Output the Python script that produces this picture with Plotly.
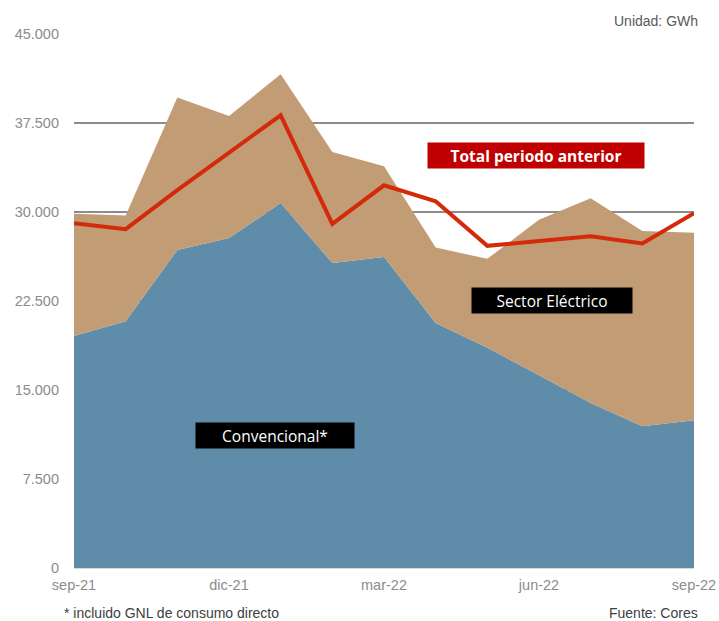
import plotly.graph_objects as go

months = ["sep-21", "oct-21", "nov-21", "dic-21", "ene-22", "feb-22", "mar-22",
          "abr-22", "may-22", "jun-22", "jul-22", "ago-22", "sep-22"]
convencional = [19550, 20800, 26800, 27800, 30750, 25700, 26200,
                20650, 18550, 16250, 13900, 11950, 12450]
total = [29850, 29700, 39650, 38100, 41600, 35050, 33850,
         27000, 26050, 29350, 31150, 28400, 28250]
sector_electrico = [t - c for t, c in zip(total, convencional)]
total_anterior = [29050, 28550, 31850, 35050, 38150, 29000, 32250,
                  30900, 27150, 27550, 27950, 27350, 29900]
tick_months = ["sep-21", "dic-21", "mar-22", "jun-22", "sep-22"]
y_ticks = [0, 7500, 15000, 22500, 30000, 37500, 45000]
y_labels = ["0", "7.500", "15.000", "22.500", "30.000", "37.500", "45.000"]

L, R, T, B = 74, 24.5, 34, 53
W, H = 719, 621
pw = W - L - R
ph = H - T - B


def px_x(x):
    return (x - L) / pw


def px_y(y):
    return (H - B - y) / ph


fig = go.Figure()
fig.add_trace(go.Scatter(x=months, y=convencional, stackgroup="a", mode="none",
                         fillcolor="#5f8ca8", name="Convencional*"))
fig.add_trace(go.Scatter(x=months, y=sector_electrico, stackgroup="a", mode="none",
                         fillcolor="#c19c74", name="Sector Eléctrico"))
fig.add_trace(go.Scatter(x=months, y=total_anterior, mode="lines",
                         line=dict(color="#d42a0a", width=4), name="Total periodo anterior"))

gray = "#8c8c8c"
fig.update_layout(
    width=W, height=H,
    margin=dict(l=L, r=R, t=T, b=B, autoexpand=False),
    paper_bgcolor="white", plot_bgcolor="white",
    showlegend=False,
    font=dict(family="Liberation Sans, Arial", size=14, color=gray),
    xaxis=dict(type="category", range=[0, 12], tickmode="array", tickvals=tick_months,
               ticktext=tick_months, showgrid=False, zeroline=False, showline=False,
               ticks="", automargin=False, ticklabelstandoff=6,
               tickfont=dict(size=14.5, color=gray)),
    yaxis=dict(range=[0, 45000], tickmode="array", tickvals=y_ticks, ticktext=y_labels,
               showgrid=True, gridcolor="#8c8c8c", gridwidth=1.5, zeroline=True,
               zerolinecolor="#d9d9d9", zerolinewidth=1.5, ticks="", ticklabelstandoff=14,
               automargin=False, tickfont=dict(size=14.5, color=gray)),
    annotations=[
        dict(x=8.95, y=34740, xref="x", yref="y", text="<b>Total periodo anterior</b>",
             showarrow=False, bgcolor="#c00000", width=214, height=23,
             font=dict(family="Open Sans", size=15.5, color="white")),
        dict(x=9.26, y=22530, xref="x", yref="y", text="Sector Eléctrico",
             showarrow=False, bgcolor="black", width=158, height=23,
             font=dict(family="Open Sans", size=15.5, color="white")),
        dict(x=3.89, y=11160, xref="x", yref="y", text="Convencional*",
             showarrow=False, bgcolor="black", width=156, height=23,
             font=dict(family="Open Sans", size=15.5, color="white")),
        dict(x=px_x(701), y=px_y(21), xref="paper", yref="paper", text="Unidad: GWh",
             showarrow=False, font=dict(size=14, color="#595959"),
             xanchor="right", yanchor="middle"),
        dict(x=px_x(62), y=px_y(613), xref="paper", yref="paper",
             text="* incluido GNL de consumo directo", showarrow=False,
             font=dict(size=14, color="#404040"), xanchor="left", yanchor="middle"),
        dict(x=px_x(701), y=px_y(613), xref="paper", yref="paper", text="Fuente: Cores",
             showarrow=False, font=dict(size=14, color="#404040"),
             xanchor="right", yanchor="middle"),
    ],
)

fig.write_html("out.html", config={"displayModeBar": False},
               post_script="document.body.style.margin='0';document.body.style.padding='0';")
